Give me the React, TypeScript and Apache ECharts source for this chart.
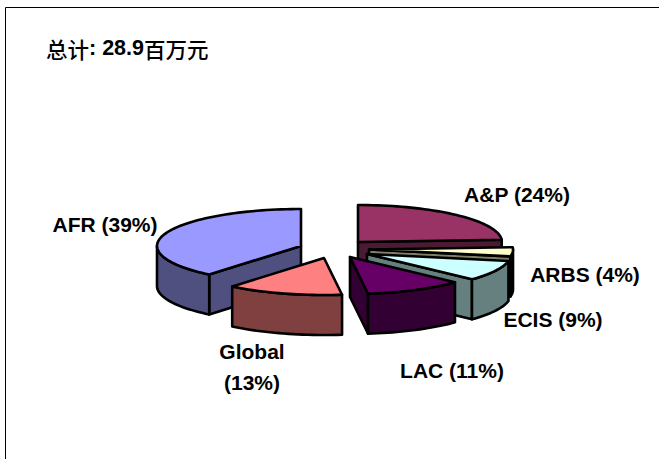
import React, { useEffect, useRef } from "react";
import * as echarts from "echarts";

// Clockwise from twelve o'clock
const categories = ["A&P", "ARBS", "ECIS", "LAC", "Global", "AFR"];
const shares = [24, 4, 9, 11, 13, 39];
const totalLabel = "28.9";

// Styling / layout, kept apart from the values
const topColors = ["#993366", "#FFFFCC", "#CCFFFF", "#660066", "#FF8080", "#9999FF"];
const sideColors = ["#4D1A33", "#808066", "#668080", "#330033", "#804040", "#4F4F80"];
const apexes: [number, number][] = [[358, 242], [369, 249.5], [367, 254], [350, 257], [324, 258], [301, 246]];
const paintOrder = [0, 1, 2, 3, 5, 4];
const labelAnchors: [number, number][] = [[517, 194], [585, 274], [553, 319], [452, 370], [252, 367], [105, 224]];
const RX = 144;
const RY = 37;
const DEPTH = 40;
const STROKE = 2.6;
const FONT = "'Liberation Sans', Arial, sans-serif";
const CJK = "'Noto Sans CJK SC', sans-serif";

const totalShare = shares.reduce((a, b) => a + b, 0);

function sliceAngles(i: number): [number, number] {
  const before = shares.slice(0, i).reduce((a, b) => a + b, 0);
  return [(before / totalShare) * 360, ((before + shares[i]) / totalShare) * 360];
}

function renderSlice(_params: any, api: any) {
  const i = api.value(0) as number;
  const [start, end] = sliceAngles(i);
  const [ax, ay] = apexes[i];
  const at = (deg: number, drop = 0): [number, number] => {
    const r = (deg * Math.PI) / 180;
    return [ax + RX * Math.sin(r), ay - RY * Math.cos(r) + drop];
  };
  const arc = (a: number, b: number, drop = 0) => {
    const n = Math.max(2, Math.ceil(Math.abs(b - a) / 2));
    const pts: [number, number][] = [];
    for (let k = 0; k <= n; k++) pts.push(at(a + ((b - a) * k) / n, drop));
    return pts;
  };
  const sideStyle = { fill: sideColors[i], stroke: "#000", lineWidth: STROKE, lineJoin: "round" };
  const children: any[] = [];
  const radialWall = (deg: number) => {
    const rim = at(deg);
    children.push({
      type: "polygon",
      shape: { points: [[ax, ay], rim, [rim[0], rim[1] + DEPTH], [ax, ay + DEPTH]] },
      style: sideStyle,
    });
  };
  if (Math.sin((start * Math.PI) / 180) < -1e-6) radialWall(start);
  if (Math.sin((end * Math.PI) / 180) > 1e-6) radialWall(end);
  const frontA = Math.max(start, 90);
  const frontB = Math.min(end, 270);
  if (frontB > frontA) {
    children.push({
      type: "polygon",
      shape: { points: [...arc(frontA, frontB), ...arc(frontB, frontA, DEPTH)] },
      style: sideStyle,
    });
  }
  children.push({
    type: "polygon",
    shape: { points: [[ax, ay], ...arc(start, end)] },
    style: { fill: topColors[i], stroke: "#000", lineWidth: STROKE, lineJoin: "round" },
  });
  return { type: "group", children };
}

export default function App() {
  const ref = useRef<HTMLDivElement>(null);
  useEffect(() => {
    document.body.style.margin = "0";
    const chart = echarts.init(ref.current!, null, { renderer: "svg" });
    const labelText = (i: number) =>
      categories[i] === "Global"
        ? `${categories[i]}\n(${shares[i]}%)`
        : `${categories[i]} (${shares[i]}%)`;
    chart.setOption({
      animation: false,
      backgroundColor: "#fff",
      graphic: [
        { type: "line", shape: { x1: 5.5, y1: 7.5, x2: 659, y2: 7.5 }, style: { stroke: "#000", lineWidth: 1 }, silent: true },
        { type: "line", shape: { x1: 5.5, y1: 7.5, x2: 5.5, y2: 459 }, style: { stroke: "#000", lineWidth: 1 }, silent: true },
        {
          type: "text",
          x: 46,
          y: 48,
          style: {
            text: `{c|总计}{b|: ${totalLabel}}{c|百万元}`,
            verticalAlign: "middle",
            rich: {
              b: { font: `bold 21.5px ${FONT}`, fill: "#000" },
              c: { font: `500 21.5px ${CJK}`, fill: "#000" },
            },
          },
        },
        ...categories.map((_, i) => ({
          type: "text",
          x: labelAnchors[i][0],
          y: labelAnchors[i][1],
          style: {
            text: labelText(i),
            font: `bold 21px ${FONT}`,
            lineHeight: 31,
            fill: "#000",
            align: "center",
            verticalAlign: "middle",
          },
        })),
      ],
      series: [
        {
          type: "custom",
          coordinateSystem: "none",
          silent: true,
          renderItem: renderSlice,
          data: paintOrder.map((i) => [i, shares[i]]),
        },
      ],
    });
    return () => chart.dispose();
  }, []);
  return <div ref={ref} style={{ position: "fixed", left: 0, top: 0, width: 659, height: 459 }} />;
}
